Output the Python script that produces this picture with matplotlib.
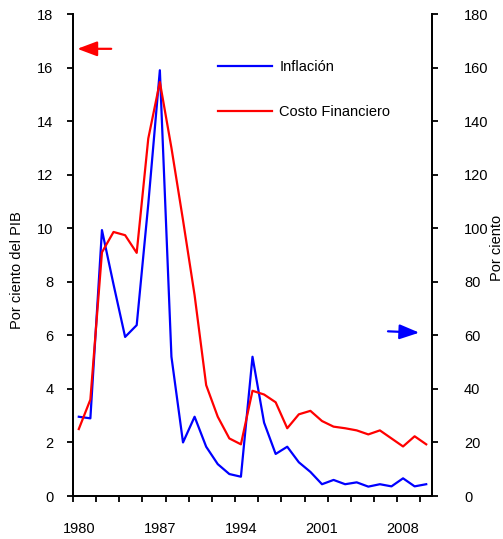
import matplotlib
matplotlib.use("Agg")
import matplotlib.pyplot as plt
from matplotlib.ticker import FixedLocator
import numpy as np

plt.rcParams['font.family'] = ['Liberation Sans', 'DejaVu Sans']
plt.rcParams['font.size'] = 10

years = list(range(1980, 2011))
costo_financiero = [2.5, 3.6, 9.1, 9.86, 9.74, 9.08, 13.35, 15.46, 13.0, 10.3, 7.5,
                    4.14, 2.96, 2.15, 1.93, 3.93, 3.79, 3.5, 2.53, 3.05, 3.18,
                    2.8, 2.59, 2.53, 2.45, 2.3, 2.45, 2.15, 1.85, 2.23, 1.93]
inflacion = [29.6, 29.0, 99.3, 79.0, 59.4, 63.8, 109.0, 159.0, 52.0, 20.0, 29.6,
             18.4, 11.9, 8.2, 7.2, 52.0, 27.4, 15.7, 18.4, 12.6, 9.0,
             4.4, 6.0, 4.4, 5.1, 3.5, 4.4, 3.6, 6.6, 3.6, 4.4]
xtick_labels = ['1980', '1987', '1994', '2001', '2008']
left_ticks = list(range(0, 19, 2))
right_ticks = list(range(0, 181, 20))

fig = plt.figure(figsize=(5.03, 5.39), dpi=100)
ax = fig.add_axes([73/503, 43/539, 359/503, 482/539])
ax2 = ax.twinx()

# blue on right axis (drawn below), red on left axis (on top)
l_inf, = ax2.plot(years, inflacion, color='#0000ff', lw=1.6, label='Inflación')
l_cf, = ax.plot(years, costo_financiero, color='#ff0000', lw=1.6, label='Costo Financiero')
ax.set_zorder(ax2.get_zorder() + 1)
ax.patch.set_visible(False)

ax.set_xlim(1979.5, 2010.5)
ax.set_ylim(0, 18)
ax2.set_ylim(0, 180)

for a in (ax, ax2):
    a.spines['top'].set_visible(False)
    for s in ('left', 'right', 'bottom'):
        a.spines[s].set_linewidth(1.3)

ax.set_yticks(left_ticks)
ax2.set_yticks(right_ticks)
ax.tick_params(axis='y', direction='out', length=4, width=1.3, pad=10, labelsize=10.5)
ax2.tick_params(axis='y', direction='out', length=4, width=1.3, pad=19, labelsize=10.5)

ax.set_xticks([int(t) for t in xtick_labels])
ax.set_xticklabels(xtick_labels)
ax.xaxis.set_minor_locator(FixedLocator(np.arange(1979.5, 2010, 2)))
ax.tick_params(axis='x', which='major', length=0, pad=19, labelsize=10.5)
ax.tick_params(axis='x', which='minor', direction='out', length=4, width=1.3)

fig.text(17/503, 1 - 270/539, 'Por ciento del PIB', rotation=90, ha='center', va='center', fontsize=10.5)
fig.text(497/503, 1 - 248/539, 'Por ciento', rotation=90, ha='center', va='center', fontsize=10.5)

leg = ax.legend([l_inf, l_cf], ['Inflación', 'Costo Financiero'], loc='upper left',
                bbox_to_anchor=(218/503, 1 - 60/539), bbox_transform=fig.transFigure,
                frameon=False, borderpad=0, borderaxespad=0, handlelength=3.7,
                handletextpad=0.5, labelspacing=2.15, fontsize=10.5)

ax.annotate('', xy=(1979.87, 16.7), xytext=(1982.8, 16.7),
            arrowprops=dict(arrowstyle='-|>,head_length=1.2,head_width=0.45',
                            color='#ff0000', lw=1.6, shrinkA=0, shrinkB=0, mutation_scale=10))
ax2.annotate('', xy=(2009.4, 61.0), xytext=(2006.7, 61.5),
             arrowprops=dict(arrowstyle='-|>,head_length=1.2,head_width=0.45',
                             color='#0000ff', lw=1.6, shrinkA=0, shrinkB=0, mutation_scale=10))

fig.savefig('out.png', dpi=100)
